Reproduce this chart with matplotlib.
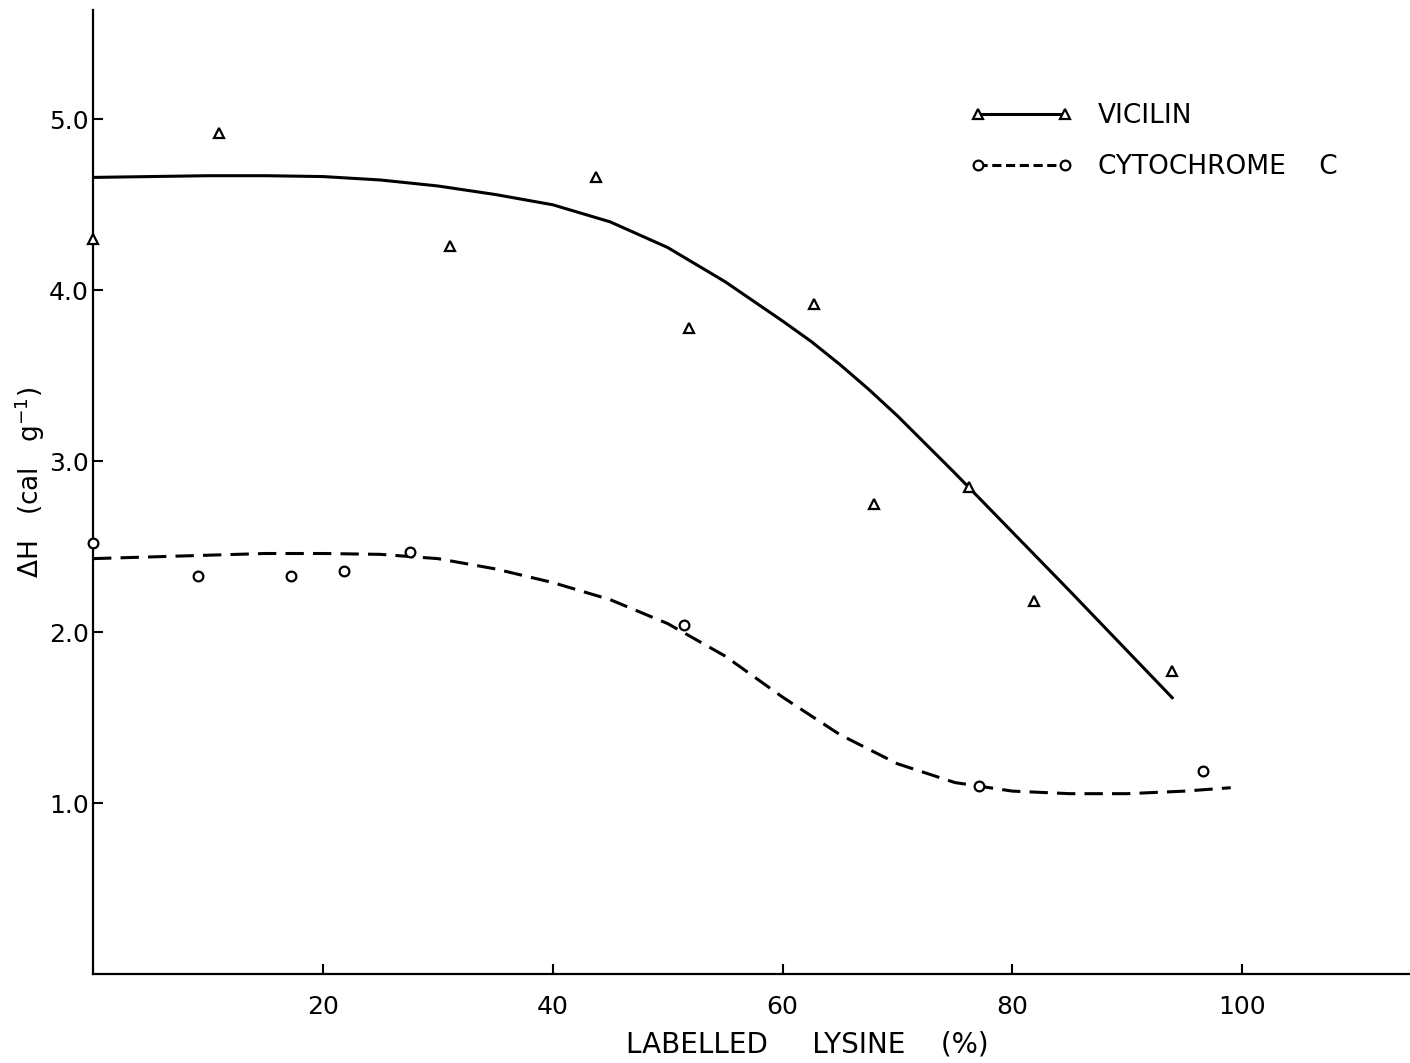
import matplotlib.pyplot as plt
from matplotlib.lines import Line2D

plt.rcParams['font.family'] = ['DejaVu Sans']

# measured points: labelled lysine (%) vs enthalpy (cal/g)
vicilin_x = [0, 11.0, 31.1, 43.8, 51.9, 62.7, 68.0, 76.2, 81.9, 93.9]
vicilin_y = [4.30, 4.92, 4.26, 4.66, 3.78, 3.92, 2.75, 2.85, 2.18, 1.77]

cyto_x = [0, 9.1, 17.2, 21.8, 27.6, 51.4, 77.1, 96.6]
cyto_y = [2.52, 2.33, 2.33, 2.36, 2.47, 2.04, 1.10, 1.19]

# hand-drawn trend curves
vicilin_fit_x = [0, 5, 10, 15, 20, 25, 30, 35, 40, 45, 50, 55, 60, 62.5, 65, 67.5, 70,
                 75, 80, 85, 90, 94]
vicilin_fit_y = [4.66, 4.665, 4.67, 4.67, 4.665, 4.645, 4.61, 4.56, 4.50, 4.40, 4.25,
                 4.05, 3.82, 3.70, 3.565, 3.42, 3.265, 2.93, 2.585, 2.24, 1.89, 1.61]

cyto_fit_x = [0, 5, 10, 15, 20, 25, 30, 35, 40, 45, 50, 55, 60, 65, 70, 75, 80, 85, 90, 95, 99]
cyto_fit_y = [2.43, 2.44, 2.45, 2.46, 2.46, 2.455, 2.43, 2.37, 2.29, 2.19, 2.05, 1.86,
              1.62, 1.40, 1.23, 1.12, 1.07, 1.055, 1.055, 1.07, 1.09]

x_ticks = [20, 40, 60, 80, 100]
y_ticks = [1, 2, 3, 4, 5]
y_tick_labels = ['1.0', '2.0', '3.0', '4.0', '5.0']

fig = plt.figure(figsize=(14.1, 10.63), dpi=100)
ax = fig.add_axes([0.066, 0.0837, 0.934, 0.907])

ax.plot(vicilin_fit_x, vicilin_fit_y, color='black', lw=2.2, solid_capstyle='butt',
        solid_joinstyle='round')
ax.plot(cyto_fit_x, cyto_fit_y, color='black', lw=2.2, dashes=(6, 3))

ax.plot(vicilin_x, vicilin_y, ls='none', marker='^', ms=7, mfc='white', mec='black',
        mew=1.6, clip_on=False, zorder=3)
ax.plot(cyto_x, cyto_y, ls='none', marker='o', ms=7, mfc='white', mec='black',
        mew=1.6, clip_on=False, zorder=3)

ax.set_xlim(0, 114.6)
ax.set_ylim(0, 5.64)
ax.set_xticks(x_ticks)
ax.set_yticks(y_ticks)
ax.set_yticklabels(y_tick_labels)

for side in ['top', 'right']:
    ax.spines[side].set_visible(False)
for side in ['left', 'bottom']:
    ax.spines[side].set_linewidth(1.6)

ax.tick_params(axis='both', direction='in', length=7, width=1.5, labelsize=18)
ax.tick_params(axis='x', pad=15)
ax.tick_params(axis='y', pad=3)

ax.set_xlabel('LABELLED     LYSINE    (%)', fontsize=20)
ax.xaxis.set_label_coords(0.542, -0.059)
ax.set_ylabel(r'$\Delta$H   (cal   g$^{-1}$)', fontsize=19)
ax.yaxis.set_label_coords(-0.035, 0.51)

handles = [
    Line2D([], [], color='black', lw=2.2, marker='^', ms=7, mfc='white', mew=1.6),
    Line2D([], [], color='black', lw=2.2, dashes=(3, 1.5), marker='o', ms=7, mfc='white', mew=1.6),
]
ax.legend(handles, ['VICILIN', 'CYTOCHROME    C'], loc='upper left',
          bbox_to_anchor=(0.656, 0.917), frameon=False, numpoints=2, fontsize=19,
          handlelength=3.9, handletextpad=0.95, labelspacing=0.95, borderpad=0)

fig.savefig('out.png', dpi=100)
